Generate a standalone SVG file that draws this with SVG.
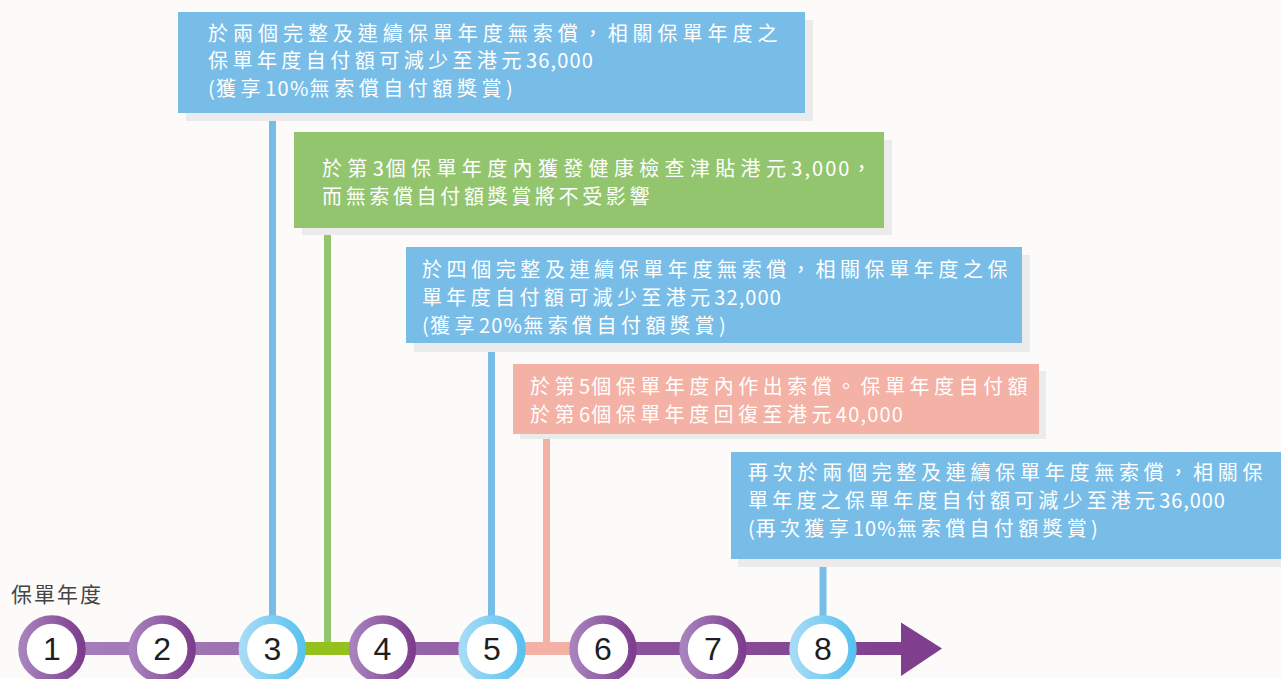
<svg xmlns="http://www.w3.org/2000/svg" width="1281" height="679" viewBox="0 0 1281 679">
<defs>
<style>
.bg{fill:#fcfbfa}
.shadow{fill:#ebebeb}
.blue{fill:#78bde8}
.green{fill:#93c56f}
.salmon{fill:#f4b1a5}
.t{font-family:"Noto Sans CJK TC","Noto Sans CJK SC",sans-serif;font-size:20px;fill:#ffffff;letter-spacing:4.5px}
.d{letter-spacing:1.2px}
.lbl{font-family:"Noto Sans CJK TC","Noto Sans CJK SC",sans-serif;font-size:21px;fill:#444444;letter-spacing:2px}
.num{font-family:"Liberation Sans",Arial,sans-serif;font-size:32px;fill:#1e1e1e;text-anchor:middle}
.ringP{fill:#ffffff;stroke:url(#gP);stroke-width:8.5}
.ringB{fill:#ffffff;stroke:url(#gB);stroke-width:8.5}
</style>
<linearGradient id="gP" x1="0" y1="0" x2="1" y2="0">
<stop offset="0" stop-color="#a882bd"/>
<stop offset="1" stop-color="#7e3e8f"/>
</linearGradient>
<linearGradient id="gB" x1="0" y1="0" x2="1" y2="0">
<stop offset="0" stop-color="#a6dbf6"/>
<stop offset="1" stop-color="#5ac2ef"/>
</linearGradient>
<linearGradient id="gAxis" gradientUnits="userSpaceOnUse" x1="20" y1="0" x2="945" y2="0">
<stop offset="0" stop-color="#a882bd"/>
<stop offset="1" stop-color="#7e3c8d"/>
</linearGradient>
</defs>
<rect class="bg" x="0" y="0" width="1281" height="679"/>

<g id="connectors">
<rect x="52" y="642" width="852" height="13" fill="url(#gAxis)"/>
<polygon points="901,622.5 942,648.5 901,676" fill="#7f3e8e"/>
<rect x="269" y="120" width="7" height="500" fill="#78bde8"/>
<rect x="324" y="235" width="7" height="414" fill="#93c56f"/>
<rect x="300" y="642" width="55" height="13" fill="#95c11f"/>
<rect x="488" y="351" width="7" height="270" fill="#78bde8"/>
<rect x="543" y="439" width="7" height="210" fill="#f4b1a5"/>
<rect x="520" y="642" width="55" height="13" fill="#f4b1a5"/>
<rect x="819.5" y="567" width="7" height="53" fill="#78bde8"/>
</g>

<g id="box1">
<rect class="shadow" x="186" y="20" width="627" height="101"/>
<rect class="blue" x="178" y="12" width="627" height="101"/>
<text class="t"><tspan x="208" y="40.5" textLength="574" lengthAdjust="spacing">於兩個完整及連續保單年度無索償，相關保單年度之</tspan><tspan x="208" y="68" textLength="386" lengthAdjust="spacing">保單年度自付額可減少至港元<tspan class="d">36,000</tspan></tspan><tspan x="208" y="95.5" textLength="306" lengthAdjust="spacing"><tspan class="d">(</tspan>獲享<tspan class="d">10%</tspan>無索償自付額獎賞<tspan class="d">)</tspan></tspan></text>
</g>

<g id="box2">
<rect class="shadow" x="302" y="140" width="590" height="95"/>
<rect class="green" x="294" y="132" width="590" height="96"/>
<text class="t"><tspan x="322" y="176" textLength="554" lengthAdjust="spacing">於第<tspan class="d">3</tspan>個保單年度內獲發健康檢查津貼港元<tspan class="d">3,000</tspan>，</tspan><tspan x="322" y="204" textLength="332" lengthAdjust="spacing">而無索償自付額獎賞將不受影響</tspan></text>
</g>

<g id="box3">
<rect class="shadow" x="414" y="255" width="616" height="97"/>
<rect class="blue" x="406" y="247" width="616" height="96"/>
<text class="t"><tspan x="422" y="277" textLength="590" lengthAdjust="spacing">於四個完整及連續保單年度無索償，相關保單年度之保</tspan><tspan x="422" y="305" textLength="360" lengthAdjust="spacing">單年度自付額可減少至港元<tspan class="d">32,000</tspan></tspan><tspan x="422" y="333" textLength="305" lengthAdjust="spacing"><tspan class="d">(</tspan>獲享<tspan class="d">20%</tspan>無索償自付額獎賞<tspan class="d">)</tspan></tspan></text>
</g>

<g id="box4">
<rect class="shadow" x="520" y="371" width="526" height="68"/>
<rect class="salmon" x="513" y="364" width="526" height="70"/>
<text class="t"><tspan x="530" y="393.5" textLength="502" lengthAdjust="spacing">於第<tspan class="d">5</tspan>個保單年度內作出索償。保單年度自付額</tspan><tspan x="530" y="421.5" textLength="374" lengthAdjust="spacing">於第<tspan class="d">6</tspan>個保單年度回復至港元<tspan class="d">40,000</tspan></tspan></text>
</g>

<g id="box5">
<rect class="shadow" x="738" y="460" width="543" height="107"/>
<rect class="blue" x="731" y="452" width="550" height="107"/>
<text class="t"><tspan x="748" y="480" textLength="519" lengthAdjust="spacing">再次於兩個完整及連續保單年度無索償，相關保</tspan><tspan x="748" y="508" textLength="478" lengthAdjust="spacing">單年度之保單年度自付額可減少至港元<tspan class="d">36,000</tspan></tspan><tspan x="748" y="536" textLength="351" lengthAdjust="spacing"><tspan class="d">(</tspan>再次獲享<tspan class="d">10%</tspan>無索償自付額獎賞<tspan class="d">)</tspan></tspan></text>
</g>

<g id="axis-label">
<text class="lbl" x="11" y="602">保單年度</text>
</g>

<g id="year1"><circle class="ringP" cx="52" cy="649" r="29.5"/><text class="num" x="52" y="660">1</text></g>
<g id="year2"><circle class="ringP" cx="162.2" cy="649" r="29.5"/><text class="num" x="162.2" y="660">2</text></g>
<g id="year3"><circle class="ringB" cx="272.3" cy="649" r="29.5"/><text class="num" x="272.3" y="660">3</text></g>
<g id="year4"><circle class="ringP" cx="382.5" cy="649" r="29.5"/><text class="num" x="382.5" y="660">4</text></g>
<g id="year5"><circle class="ringB" cx="492" cy="649" r="29.5"/><text class="num" x="492" y="660">5</text></g>
<g id="year6"><circle class="ringP" cx="603" cy="649" r="29.5"/><text class="num" x="603" y="660">6</text></g>
<g id="year7"><circle class="ringP" cx="713" cy="649" r="29.5"/><text class="num" x="713" y="660">7</text></g>
<g id="year8"><circle class="ringB" cx="823" cy="649" r="29.5"/><text class="num" x="823" y="660">8</text></g>
</svg>
